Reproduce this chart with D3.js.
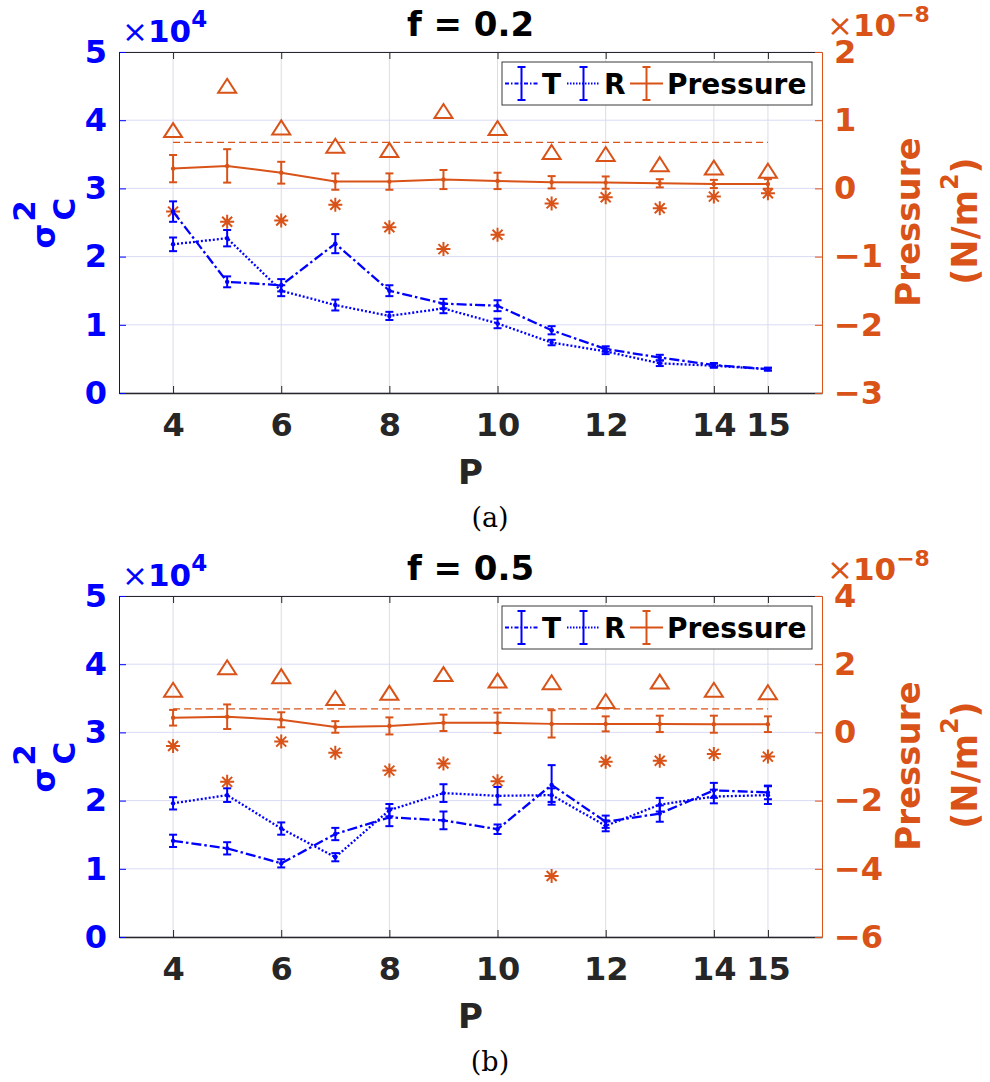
<!DOCTYPE html>
<html>
<head>
<meta charset="utf-8">
<script src="https://cdn.jsdelivr.net/npm/d3@7"></script>
<style>
  body { margin: 0; background: #fff; }
  text { font-family: "DejaVu Sans", sans-serif; }
</style>
</head>
<body>
<div id="plot"></div>
<script>
// Data
const P = [4, 5, 6, 7, 8, 9, 10, 11, 12, 13, 14, 15];
const xTicks = [4, 6, 8, 10, 12, 14, 15];
const leftTicks = [0, 1, 2, 3, 4, 5];
const legendLabels = ["T", "R", "Pressure"];

// (a) f = 0.2
const tA = [2.66, 1.63, 1.58, 2.19, 1.50, 1.31, 1.28, 0.92, 0.645, 0.52, 0.41, 0.35];
const tAerr = [0.15, 0.08, 0.09, 0.14, 0.08, 0.07, 0.08, 0.06, 0.04, 0.04, 0.03, 0.02];
const rA = [2.18, 2.27, 1.50, 1.29, 1.13, 1.24, 1.02, 0.74, 0.61, 0.435, 0.40, 0.35];
const rAerr = [0.10, 0.12, 0.08, 0.08, 0.06, 0.07, 0.07, 0.04, 0.04, 0.04, 0.03, 0.02];
const pA = [0.29, 0.33, 0.23, 0.10, 0.10, 0.13, 0.11, 0.09, 0.085, 0.075, 0.065, 0.065];
const pAerr = [0.20, 0.245, 0.16, 0.12, 0.12, 0.14, 0.12, 0.09, 0.09, 0.06, 0.06, 0.07];
const triA = [0.84, 1.49, 0.88, 0.61, 0.55, 1.12, 0.87, 0.52, 0.49, 0.34, 0.29, 0.245];
const starA = [-0.34, -0.49, -0.47, -0.24, -0.57, -0.89, -0.68, -0.22, -0.13, -0.29, -0.12, -0.07];
const refA = 0.675;
const rightTicksA = [-3, -2, -1, 0, 1, 2];

// (b) f = 0.5
const tB = [1.41, 1.30, 1.08, 1.51, 1.755, 1.71, 1.58, 2.23, 1.69, 1.81, 2.15, 2.12];
const tBerr = [0.09, 0.09, 0.06, 0.09, 0.13, 0.13, 0.07, 0.29, 0.09, 0.12, 0.11, 0.10];
const rB = [1.96, 2.08, 1.59, 1.17, 1.86, 2.11, 2.07, 2.08, 1.63, 1.94, 2.06, 2.08];
const rBerr = [0.09, 0.10, 0.09, 0.06, 0.09, 0.13, 0.13, 0.10, 0.08, 0.10, 0.10, 0.13];
const pB = [0.43, 0.46, 0.37, 0.16, 0.19, 0.28, 0.28, 0.25, 0.25, 0.25, 0.24, 0.24];
const pBerr = [0.23, 0.36, 0.22, 0.17, 0.25, 0.24, 0.30, 0.40, 0.22, 0.24, 0.25, 0.23];
const triB = [1.22, 1.88, 1.62, 0.98, 1.13, 1.68, 1.49, 1.44, 0.89, 1.46, 1.22, 1.15];
const starB = [-0.40, -1.45, -0.27, -0.60, -1.12, -0.91, -1.43, -4.21, -0.86, -0.83, -0.63, -0.71];
const refB = 0.69;
const rightTicksB = [-6, -4, -2, 0, 2, 4];

// Styles
const blue = "#0000ff";
const orange = "#d95319";
const dark = "#262626";
const left = 119, right = 822, plotH = 341;
const fmt = d => (d < 0 ? "\u2212" + Math.abs(d) : String(d));

const svg = d3.select("#plot").append("svg")
    .attr("width", 990).attr("height", 1082)
    .style("background", "#fff");

function drawPanel(top, cfg) {
    const g = svg.append("g");
    const bottom = top + plotH;
    const x = d3.scaleLinear().domain([3, 16]).range([left, right]);
    const yL = d3.scaleLinear().domain([0, 5]).range([bottom, top]);
    const yR = d3.scaleLinear().domain(d3.extent(cfg.rTicks)).range([bottom, top]);

    // grid
    g.selectAll(".gx").data(xTicks).enter().append("line")
        .attr("x1", d => x(d)).attr("x2", d => x(d))
        .attr("y1", top).attr("y2", bottom)
        .attr("stroke", "#dcdce6").attr("stroke-width", 1);
    g.selectAll(".gy").data(leftTicks).enter().append("line")
        .attr("x1", left).attr("x2", right)
        .attr("y1", d => yL(d)).attr("y2", d => yL(d))
        .attr("stroke", "#dadaf6").attr("stroke-width", 1);

    // axes
    const ax = g.append("g").attr("transform", `translate(0,${bottom})`)
        .call(d3.axisBottom(x).tickValues(xTicks).tickFormat(fmt)
            .tickSizeInner(-7).tickSizeOuter(0).tickPadding(20));
    ax.attr("color", dark);
    ax.selectAll("text").attr("font-size", 32).attr("font-weight", "bold")
        .attr("font-family", "DejaVu Sans").attr("fill", dark);
    ax.select(".domain").attr("stroke-width", 1.3);

    const axT = g.append("g").attr("transform", `translate(0,${top})`)
        .call(d3.axisTop(x).tickValues(xTicks).tickSizeInner(-7).tickSizeOuter(0).tickFormat(""));
    axT.attr("color", dark);

    const ayL = g.append("g").attr("transform", `translate(${left},0)`)
        .call(d3.axisLeft(yL).tickValues(leftTicks).tickFormat(fmt)
            .tickSizeInner(-7).tickSizeOuter(0).tickPadding(12));
    ayL.attr("color", blue);
    ayL.selectAll("text").attr("font-size", 32).attr("font-weight", "bold")
        .attr("font-family", "DejaVu Sans").attr("fill", blue);

    const ayR = g.append("g").attr("transform", `translate(${right},0)`)
        .call(d3.axisRight(yR).tickValues(cfg.rTicks).tickFormat(fmt)
            .tickSizeInner(-7).tickSizeOuter(0).tickPadding(12));
    ayR.attr("color", orange);
    ayR.selectAll("text").attr("font-size", 32).attr("font-weight", "bold")
        .attr("font-family", "DejaVu Sans").attr("fill", orange);

    // dashed reference line
    g.append("line")
        .attr("x1", x(P[0])).attr("x2", x(P[P.length - 1]))
        .attr("y1", yR(cfg.ref)).attr("y2", yR(cfg.ref))
        .attr("stroke", orange).attr("stroke-width", 1.2).attr("stroke-dasharray", "7,4");

    // error-bar series
    function series(vals, errs, y, colour, dash, w) {
        const pts = P.map((p, i) => ({ p: p, v: vals[i], e: errs[i] }));
        g.append("path").datum(pts)
            .attr("d", d3.line().x(d => x(d.p)).y(d => y(d.v)))
            .attr("fill", "none").attr("stroke", colour).attr("stroke-width", w)
            .attr("stroke-dasharray", dash);
        const eb = g.append("g").selectAll("g").data(pts).enter().append("g");
        eb.append("line")
            .attr("x1", d => x(d.p)).attr("x2", d => x(d.p))
            .attr("y1", d => y(d.v - d.e)).attr("y2", d => y(d.v + d.e))
            .attr("stroke", colour).attr("stroke-width", 2);
        [-1, 1].forEach(s => {
            eb.append("line")
                .attr("x1", d => x(d.p) - 4).attr("x2", d => x(d.p) + 4)
                .attr("y1", d => y(d.v + s * d.e)).attr("y2", d => y(d.v + s * d.e))
                .attr("stroke", colour).attr("stroke-width", 2);
        });
        eb.append("circle").attr("cx", d => x(d.p)).attr("cy", d => y(d.v))
            .attr("r", 2.2).attr("fill", colour);
    }

    series(cfg.p, cfg.pErr, yR, orange, null, 2);

    // triangles
    g.selectAll(".tri").data(P).enter().append("path")
        .attr("transform", (d, i) => `translate(${x(d)},${yR(cfg.tri[i])})`)
        .attr("d", "M0,-8L9,6L-9,6Z")
        .attr("fill", "none").attr("stroke", orange).attr("stroke-width", 2);

    // asterisks
    const a = 7, b = 5;
    g.selectAll(".star").data(P).enter().append("path")
        .attr("transform", (d, i) => `translate(${x(d)},${yR(cfg.star[i])})`)
        .attr("d", `M${-a},0L${a},0M0,${-a}L0,${a}M${-b},${-b}L${b},${b}M${-b},${b}L${b},${-b}`)
        .attr("fill", "none").attr("stroke", orange).attr("stroke-width", 2);

    series(cfg.t, cfg.tErr, yL, blue, "10,3,2.5,3", 2.3);
    series(cfg.r, cfg.rErr, yL, blue, "2,2", 2.3);

    // title
    g.append("text").attr("x", (left + right) / 2).attr("y", top - 16)
        .attr("text-anchor", "middle").attr("font-size", 34).attr("font-weight", "bold")
        .attr("fill", "#000").text(cfg.title);

    // x label
    g.append("text").attr("x", (left + right) / 2).attr("y", bottom + 91)
        .attr("text-anchor", "middle").attr("font-size", 34).attr("font-weight", "bold")
        .attr("fill", dark).text("P");

    // caption
    g.append("text").attr("x", 490).attr("y", bottom + 134)
        .attr("text-anchor", "middle").attr("font-size", 27)
        .style("font-family", "'DejaVu Serif', serif")
        .attr("fill", "#000").text(cfg.caption);

    // exponent labels
    const eL = g.append("text").attr("x", 122).attr("y", top - 10)
        .attr("font-size", 31).attr("fill", blue);
    eL.append("tspan").text("×");
    eL.append("tspan").attr("font-weight", "bold").text("10");
    eL.append("tspan").attr("font-weight", "bold").attr("font-size", 23).attr("dy", -15).text("4");

    const eR = g.append("text").attr("x", 827).attr("y", top - 16)
        .attr("font-size", 31).attr("fill", orange);
    eR.append("tspan").text("×");
    eR.append("tspan").attr("font-weight", "bold").text("10");
    eR.append("tspan").attr("font-weight", "bold").attr("font-size", 22).attr("dy", -14).text("−8");

    // left y label sigma_C^2
    const cy = top + 184;
    g.append("text").attr("transform", `translate(55,${cy})rotate(-90)`)
        .attr("text-anchor", "middle").attr("font-size", 32).attr("font-weight", "bold")
        .attr("fill", blue).text("σ");
    g.append("text").attr("transform", `translate(35,${cy - 25})rotate(-90)`)
        .attr("text-anchor", "middle").attr("font-size", 31).attr("font-weight", "bold")
        .attr("fill", blue).text("2");
    g.append("text").attr("transform", `translate(75,${cy - 27})rotate(-90)`)
        .attr("text-anchor", "middle").attr("font-size", 31).attr("font-weight", "bold")
        .attr("fill", blue).text("C");

    // right y label
    const ry = top + 170;
    g.append("text").attr("transform", `translate(920,${ry})rotate(-90)`)
        .attr("text-anchor", "middle").attr("font-size", 34).attr("font-weight", "bold")
        .attr("fill", orange).text("Pressure");
    const u = g.append("text").attr("transform", `translate(977,${ry - 1})rotate(-90)`)
        .attr("text-anchor", "middle").attr("font-size", 35).attr("font-weight", "bold")
        .attr("fill", orange);
    u.append("tspan").text("(N/m");
    u.append("tspan").attr("font-size", 24).attr("dy", -19).text("2");
    u.append("tspan").attr("dy", 19).text(")");

    // legend
    const lg = g.append("g").attr("transform", `translate(502,${top + 10})`);
    lg.append("rect").attr("width", 310).attr("height", 43)
        .attr("fill", "#fff").attr("stroke", "#3a3a3a").attr("stroke-width", 1);
    const items = [
        { x0: 3, colour: blue, dash: "4,2,1.5,2", tx: 40 },
        { x0: 65, colour: blue, dash: "1.5,1.5", tx: 102 },
        { x0: 128, colour: orange, dash: null, tx: 165 }
    ];
    items.forEach((it, i) => {
        lg.append("line").attr("x1", it.x0).attr("x2", it.x0 + 33)
            .attr("y1", 21.5).attr("y2", 21.5)
            .attr("stroke", it.colour).attr("stroke-width", 2).attr("stroke-dasharray", it.dash);
        const cx = it.x0 + 16.5;
        lg.append("line").attr("x1", cx).attr("x2", cx).attr("y1", 5).attr("y2", 38)
            .attr("stroke", it.colour).attr("stroke-width", 2);
        [5, 38].forEach(yy => lg.append("line").attr("x1", cx - 4).attr("x2", cx + 4)
            .attr("y1", yy).attr("y2", yy).attr("stroke", it.colour).attr("stroke-width", 2));
        lg.append("text").attr("x", it.tx).attr("y", 31.5)
            .attr("font-size", 28).attr("font-weight", "bold").attr("fill", "#000")
            .text(legendLabels[i]);
    });
}

drawPanel(52, {
    title: "f = 0.2", caption: "(a)",
    t: tA, tErr: tAerr, r: rA, rErr: rAerr, p: pA, pErr: pAerr,
    tri: triA, star: starA, ref: refA, rTicks: rightTicksA
});
drawPanel(596, {
    title: "f = 0.5", caption: "(b)",
    t: tB, tErr: tBerr, r: rB, rErr: rBerr, p: pB, pErr: pBerr,
    tri: triB, star: starB, ref: refB, rTicks: rightTicksB
});
</script>
</body>
</html>
